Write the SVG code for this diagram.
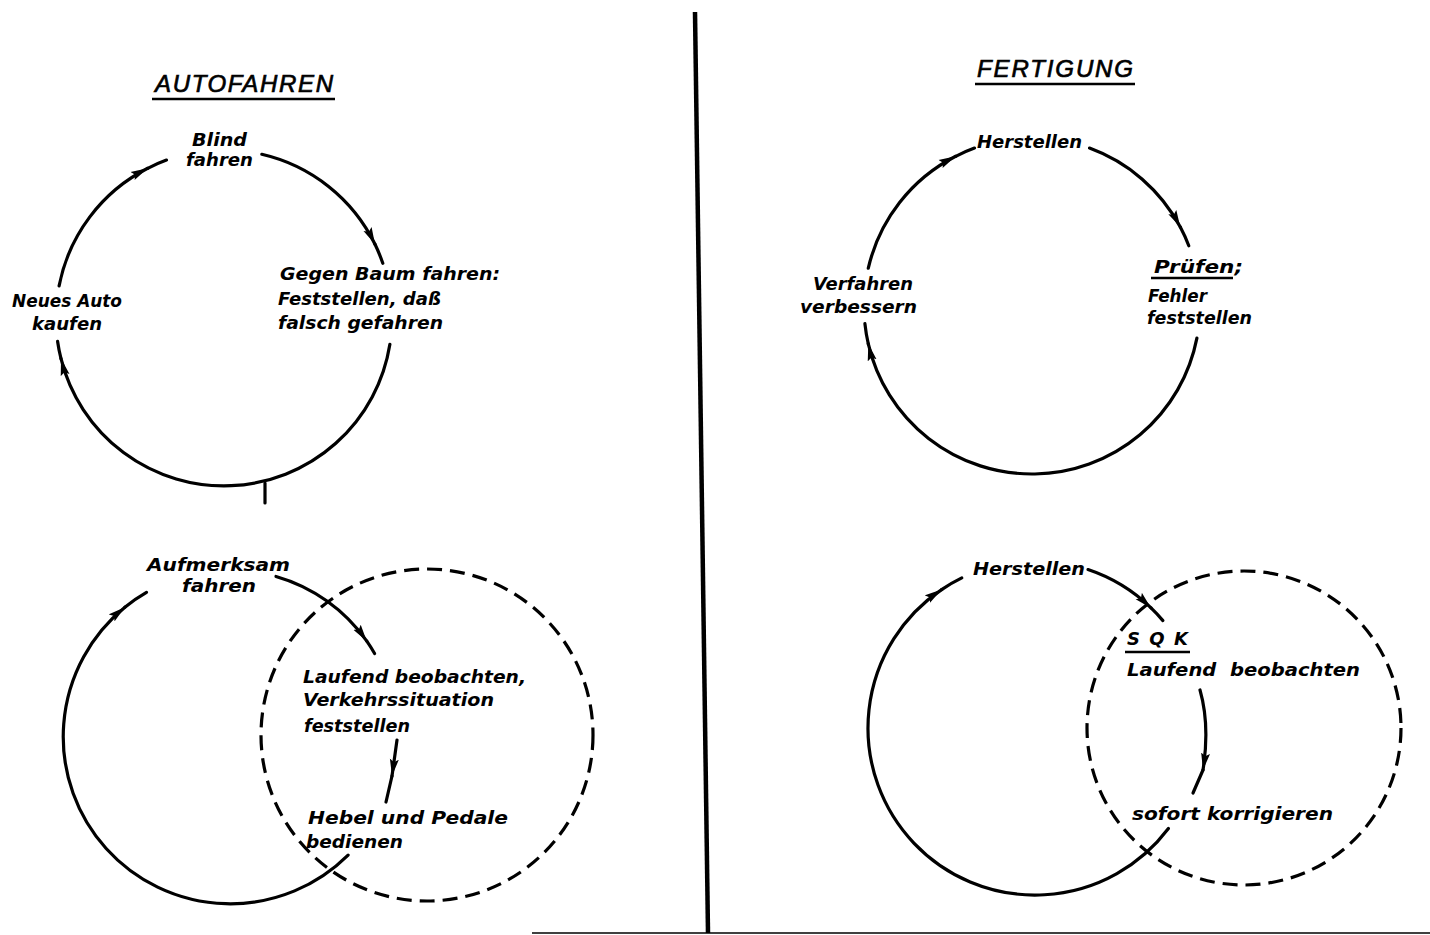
<svg xmlns="http://www.w3.org/2000/svg" width="1430" height="935" viewBox="0 0 1430 935">
<style>
  .t { font-family: "DejaVu Sans", "Liberation Sans", Arial, sans-serif; font-style: italic; font-weight: bold; font-size: 18px; fill: #000; }
  .title { font-family: "Liberation Sans", Arial, sans-serif; font-style: italic; font-weight: normal; font-size: 24px; fill: #000; stroke: #000; stroke-width: 0.7; }
  .ln { fill: none; stroke: #000; stroke-width: 3.2; stroke-linecap: round; }
  .dash { fill: none; stroke: #000; stroke-width: 3.2; stroke-dasharray: 15 8; }
  .ul { stroke: #000; stroke-width: 2.5; }
</style>
<defs>
  <marker id="ah" viewBox="0 -5 17 10" refX="17" refY="0" markerWidth="17" markerHeight="10" markerUnits="userSpaceOnUse" orient="auto">
    <path d="M0,-4.5 L17,0 L0,4.5 L3,0 z" fill="#000"/>
  </marker>
</defs>
<rect width="1430" height="935" fill="#fff"/>

<g id="frame">
  <line x1="695" y1="12" x2="708" y2="933" stroke="#000" stroke-width="4.5"/>
  <line x1="532" y1="933" x2="1430" y2="933" stroke="#000" stroke-width="1.5"/>
</g>

<g id="title-autofahren">
  <text class="title" x="155" y="92" textLength="178">AUTOFAHREN</text>
  <line class="ul" x1="152" y1="99" x2="335" y2="99"/>
</g>
<g id="title-fertigung">
  <text class="title" x="977" y="77" textLength="156">FERTIGUNG</text>
  <line class="ul" x1="975" y1="84" x2="1135" y2="84"/>
</g>

<g id="connectors">
  <path class="ln" marker-end="url(#ah)" d="M261.8,154.3 A168,168 0 0 1 375.0,244.3"/>
  <path class="ln" d="M375.0,244.3 A168,168 0 0 1 382.8,263.3"/>
  <path class="ln" marker-end="url(#ah)" d="M389.9,344.3 A168,168 0 0 1 61.0,358.6"/>
  <path class="ln" d="M61.0,358.6 A168,168 0 0 1 57.6,341.4"/>
  <path class="ln" marker-end="url(#ah)" d="M59.1,285.9 A168,168 0 0 1 147.7,168.3"/>
  <path class="ln" d="M147.7,168.3 A168,168 0 0 1 166.5,160.1"/>
  <line class="ln" x1="265" y1="483" x2="265" y2="503"/>

  <path class="ln" marker-end="url(#ah)" d="M1089.5,148.1 A168,168 0 0 1 1180.3,227.1"/>
  <path class="ln" d="M1180.3,227.1 A168,168 0 0 1 1188.8,245.8"/>
  <path class="ln" marker-end="url(#ah)" d="M1196.9,338.1 A168,168 0 0 1 868.3,343.8"/>
  <path class="ln" d="M868.3,343.8 A168,168 0 0 1 864.9,323.6"/>
  <path class="ln" marker-end="url(#ah)" d="M868.3,268.2 A168,168 0 0 1 955.7,156.3"/>
  <path class="ln" d="M955.7,156.3 A168,168 0 0 1 974.5,148.1"/>

  <circle class="dash" cx="427" cy="735" r="166"/>
  <path class="ln" marker-end="url(#ah)" d="M348.1,855.1 A167,167 0 1 1 124.9,607.2"/>
  <path class="ln" d="M124.9,607.2 A167,167 0 0 1 146.5,592.4"/>
  <path class="ln" marker-end="url(#ah)" d="M276.0,576.5 A167,167 0 0 1 366.8,641.2"/>
  <path class="ln" d="M366.8,641.2 A167,167 0 0 1 374.6,653.5"/>
  <path class="ln" marker-end="url(#ah)" d="M397,740 L392,776"/>
  <path class="ln" d="M392,776 L386,802"/>

  <circle class="dash" cx="1244" cy="728" r="157"/>
  <path class="ln" marker-end="url(#ah)" d="M1168.4,828.5 A167,167 0 1 1 941.6,589.6"/>
  <path class="ln" d="M941.6,589.6 A167,167 0 0 1 961.8,577.9"/>
  <path class="ln" marker-end="url(#ah)" d="M1088.0,569.6 A167,167 0 0 1 1151.0,607.9"/>
  <path class="ln" d="M1151.0,607.9 A167,167 0 0 1 1162.9,620.6"/>
  <path class="ln" marker-end="url(#ah)" d="M1200,690 Q1210,725 1203,770"/>
  <path class="ln" d="M1203,770 L1193,793"/>
</g>

<g id="node-blind-fahren">
  <text class="t" x="192" y="146" textLength="55" lengthAdjust="spacingAndGlyphs">Blind</text>
  <text class="t" x="186" y="166" textLength="67" lengthAdjust="spacingAndGlyphs">fahren</text>
</g>
<g id="node-gegen-baum">
  <text class="t" x="280" y="280" textLength="220" lengthAdjust="spacingAndGlyphs">Gegen Baum fahren:</text>
  <text class="t" x="278" y="305" textLength="163" lengthAdjust="spacingAndGlyphs">Feststellen, daß</text>
  <text class="t" x="278" y="329" textLength="165" lengthAdjust="spacingAndGlyphs">falsch gefahren</text>
</g>
<g id="node-neues-auto">
  <text class="t" x="12" y="307" textLength="110" lengthAdjust="spacingAndGlyphs">Neues Auto</text>
  <text class="t" x="32" y="330" textLength="70" lengthAdjust="spacingAndGlyphs">kaufen</text>
</g>

<g id="node-aufmerksam">
  <text class="t" x="147" y="571" textLength="143" lengthAdjust="spacingAndGlyphs">Aufmerksam</text>
  <text class="t" x="182" y="592" textLength="74" lengthAdjust="spacingAndGlyphs">fahren</text>
</g>
<g id="node-laufend-links">
  <text class="t" x="303" y="683" textLength="223" lengthAdjust="spacingAndGlyphs">Laufend beobachten,</text>
  <text class="t" x="303" y="706" textLength="191" lengthAdjust="spacingAndGlyphs">Verkehrssituation</text>
  <text class="t" x="304" y="732" textLength="106" lengthAdjust="spacingAndGlyphs">feststellen</text>
</g>
<g id="node-hebel">
  <text class="t" x="308" y="824" textLength="200" lengthAdjust="spacingAndGlyphs">Hebel und Pedale</text>
  <text class="t" x="306" y="848" textLength="97" lengthAdjust="spacingAndGlyphs">bedienen</text>
</g>

<g id="node-herstellen-oben">
  <text class="t" x="977" y="148" textLength="105" lengthAdjust="spacingAndGlyphs">Herstellen</text>
</g>
<g id="node-pruefen">
  <text class="t" x="1154" y="273" textLength="89" lengthAdjust="spacingAndGlyphs">Prüfen;</text>
  <line class="ul" x1="1151" y1="278" x2="1233" y2="278"/>
  <text class="t" x="1148" y="302" textLength="59" lengthAdjust="spacingAndGlyphs">Fehler</text>
  <text class="t" x="1147" y="324" textLength="105" lengthAdjust="spacingAndGlyphs">feststellen</text>
</g>
<g id="node-verfahren">
  <text class="t" x="813" y="290" textLength="100" lengthAdjust="spacingAndGlyphs">Verfahren</text>
  <text class="t" x="800" y="313" textLength="117" lengthAdjust="spacingAndGlyphs">verbessern</text>
</g>

<g id="node-herstellen-unten">
  <text class="t" x="973" y="575" textLength="112" lengthAdjust="spacingAndGlyphs">Herstellen</text>
</g>
<g id="node-sqk">
  <text class="t" x="1127" y="645" textLength="61">S Q K</text>
  <line class="ul" x1="1125" y1="652" x2="1190" y2="652"/>
  <text class="t" x="1127" y="676" textLength="233" lengthAdjust="spacingAndGlyphs">Laufend&#160;&#160;beobachten</text>
</g>
<g id="node-sofort">
  <text class="t" x="1132" y="820" textLength="201" lengthAdjust="spacingAndGlyphs">sofort korrigieren</text>
</g>
</svg>
